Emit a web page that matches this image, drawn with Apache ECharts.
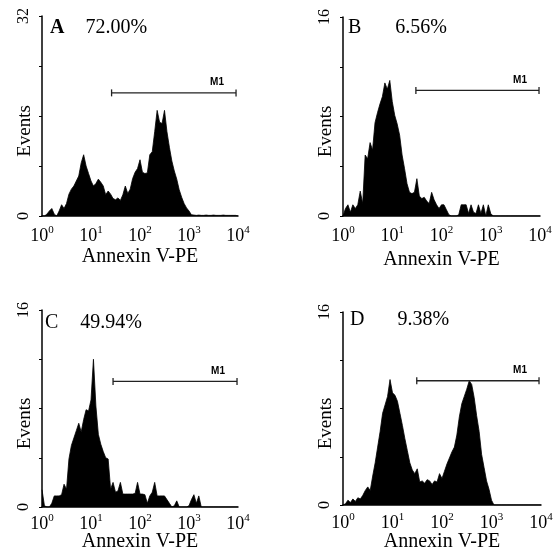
<!DOCTYPE html>
<html>
<head>
<meta charset="utf-8">
<script src="https://cdn.jsdelivr.net/npm/echarts@6/dist/echarts.min.js"></script>
<style>
html,body{margin:0;padding:0;background:#fff;}
#chart{width:557px;height:553px;}
</style>
</head>
<body>
<div id="chart"></div>
<script>
// channel positions, in decades (log10 of Annexin V-PE intensity)
const bins = [0.00,0.05,0.10,0.15,0.20,0.25,0.30,0.35,0.40,0.45,0.50,0.55,0.60,0.65,0.70,0.75,0.80,0.85,0.90,0.95,
  1.00,1.05,1.10,1.15,1.20,1.25,1.30,1.35,1.40,1.45,1.50,1.55,1.60,1.65,1.70,1.75,1.80,1.85,1.90,1.95,
  2.00,2.05,2.10,2.15,2.20,2.25,2.30,2.35,2.40,2.45,2.50,2.55,2.60,2.65,2.70,2.75,2.80,2.85,2.90,2.95,
  3.00,3.05,3.10,3.15,3.20,3.25,3.30,3.35,3.40,3.45,3.50,3.55,3.60,3.65,3.70,3.75,3.80,3.85,3.90,3.95,4.00];

const countsA = [0,0,0.3,0.8,1.2,0.3,0,0.8,1.8,1.2,2.0,3.5,4.3,4.8,5.6,6.4,8.5,9.8,8.0,6.8,
  5.6,4.8,5.2,5.9,5.4,4.8,3.4,4.0,3.5,2.8,2.6,2.9,2.5,3.4,4.8,3.6,4.3,6.0,7.0,7.6,
  9.0,7.0,6.8,6.9,9.8,10.3,13.5,16.9,15.0,14.8,16.9,13.5,11.0,8.8,7.2,5.9,4.2,3.0,2.0,1.3,
  0.8,0.2,0.15,0.1,0.15,0.1,0.1,0.15,0.1,0.1,0.15,0.1,0.1,0.1,0.15,0.1,0.1,0.1,0.1,0.1,0];

const countsB = [0,0.6,0.9,0.3,0.9,0.6,0.9,2.0,1.0,4.9,4.6,5.9,5.3,7.5,8.3,9.0,9.6,10.7,10.2,10.9,
  9.2,8.1,7.4,6.5,4.9,3.8,2.6,1.9,1.8,1.9,3.0,1.6,1.4,1.5,1.2,1.0,1.9,1.3,0.9,0.6,
  0.9,0.9,0.5,0.1,0,0,0,0.1,0.9,0.9,0.9,0.2,0.9,0.3,0.2,0.9,0.2,0.9,0,0.9,
  0.2,0,0,0,0,0,0,0,0,0,0,0,0,0,0,0,0,0,0,0,0];

const countsC = [1.4,0.1,0,0,0.3,0.9,0.9,0.9,1.0,1.85,1.45,3.9,5.0,5.6,6.2,6.8,6.1,7.1,7.9,7.8,
  8.7,12.0,8.2,5.9,5.1,4.5,4.0,3.9,1.45,2.0,1.2,1.3,2.0,1.05,1.05,1.05,1.05,1.05,1.1,2.0,
  1.05,1.05,1.0,0.3,0.9,1.2,2.0,0.9,0.9,0.9,0.9,0.6,0.3,0,0.1,0.5,0,0,0,0,
  0.1,0.6,1.0,0.3,0.9,0,0,0,0,0,0,0,0,0,0,0,0,0,0,0,0];

const countsD = [0,0.1,0.4,0.2,0.5,0.3,0.6,0.5,0.8,1.2,1.5,1.2,2.4,3.5,4.8,6.1,7.6,8.3,9.0,10.4,
  9.3,9.1,8.6,7.6,6.6,5.5,4.5,3.5,2.9,2.6,3.0,1.9,2.0,1.8,2.1,2.0,1.7,2.0,1.9,2.6,
  2.2,2.8,3.4,3.9,4.4,4.8,5.8,7.3,8.4,9.0,9.6,10.3,10.0,8.9,7.4,6.1,4.2,3.1,2.0,1.3,
  0.4,0,0,0,0,0,0,0,0,0,0,0,0,0,0,0,0,0,0,0,0];

const panelLetters = ['A','B','C','D'];
const panelPercents = ['72.00%','6.56%','49.94%','9.38%'];
const yMax = [32,16,16,16];
const yInterval = [8,4,4,4];
const xTickValues = [0,1,2,3,4]; // exponents of 10
const m1Low = [1.42,1.48,1.45,1.49];
const m1High = [3.96,3.98,3.98,3.96];
const m1Level = [19.7,10.1,10.2,10.3];

const countsAll = [countsA, countsB, countsC, countsD];
const serif = '"Liberation Serif","Times New Roman",serif';

const grids = [
  {left:42, top:16, width:196, height:200},
  {left:343, top:17, width:197, height:199},
  {left:42, top:310, width:196, height:198},
  {left:343, top:312, width:198, height:196}
];
const titlePos = [[50,18,21],[348,18,34],[45,313,22],[350,310,33]];
const xNameGap = [31,34,25,27];
const xLabelMargin = [9,9,6,7];

const xAxes = [], yAxes = [], series = [], titles = [];
for (let i = 0; i < 4; i++) {
  xAxes.push({
    gridIndex:i, type:'value', min:0, max:4, interval:1,
    axisLine:{lineStyle:{color:'#000', width:1.5}},
    axisTick:{show:false}, splitLine:{show:false},
    axisLabel:{
      margin:xLabelMargin[i],
      formatter: v => xTickValues.indexOf(v) >= 0 ? '{b|10}{s|' + v + '}' : '',
      rich:{
        b:{fontFamily:serif, fontSize:18, color:'#000', lineHeight:20, verticalAlign:'bottom'},
        s:{fontFamily:serif, fontSize:11, color:'#000', lineHeight:11, verticalAlign:'top'}
      }
    },
    name:'Annexin V-PE', nameLocation:'middle', nameGap:xNameGap[i], nameMoveOverlap:false,
    nameTextStyle:{fontFamily:serif, fontSize:20, color:'#000'}
  });
  yAxes.push({
    gridIndex:i, type:'value', min:0, max:yMax[i], interval:yInterval[i],
    axisLine:{show:true, lineStyle:{color:'#000', width:1.5}},
    axisTick:{show:true, length:3, lineStyle:{color:'#000', width:1}},
    splitLine:{show:false},
    axisLabel:{
      rotate:90, margin:10, fontFamily:serif, fontSize:16, color:'#000',
      formatter: v => (v === 0 || v === yMax[i]) ? String(v) : ''
    },
    name:'Events', nameLocation:'middle', nameGap:7, nameMoveOverlap:false,
    nameTextStyle:{fontFamily:serif, fontSize:19, color:'#000', padding:[0,30,0,0]}
  });
  series.push({
    type:'line', xAxisIndex:i, yAxisIndex:i,
    data: bins.map((b, k) => [b, countsAll[i][k]]),
    symbol:'none', smooth:false,
    lineStyle:{color:'#000', width:0.8},
    areaStyle:{color:'#000', opacity:1},
    silent:true, z:2
  });
  series.push({
    type:'line', xAxisIndex:i, yAxisIndex:i,
    data:[[m1Low[i], m1Level[i]], {value:[m1High[i], m1Level[i]], label:{show:true}}],
    symbol:'rect', symbolSize:[1.3,7], showAllSymbol:true,
    itemStyle:{color:'#222'},
    lineStyle:{color:'#222', width:1.3},
    label:{show:false, formatter:'M1', position:'top', distance:2, offset:[-19,0],
      fontFamily:'"Liberation Sans",Arial,sans-serif', fontWeight:'bold', fontSize:10, color:'#000'},
    silent:true, z:3
  });
  titles.push({
    left:titlePos[i][0], top:titlePos[i][1], padding:0,
    text:'{l|' + panelLetters[i] + '}{p|' + panelPercents[i] + '}',
    textStyle:{fontWeight:'normal', rich:{
      l:{fontFamily:serif, fontSize:20, color:'#000', fontWeight: i === 0 ? 'bold' : 'normal'},
      p:{fontFamily:serif, fontSize:20, color:'#000', fontWeight:'normal', padding:[0,0,0,titlePos[i][2]]}
    }}
  });
}

const chart = echarts.init(document.getElementById('chart'), null, {renderer:'canvas'});
chart.setOption({
  animation:false,
  backgroundColor:'#fff',
  title:titles,
  grid:grids,
  xAxis:xAxes,
  yAxis:yAxes,
  series:series
});
</script>
</body>
</html>
